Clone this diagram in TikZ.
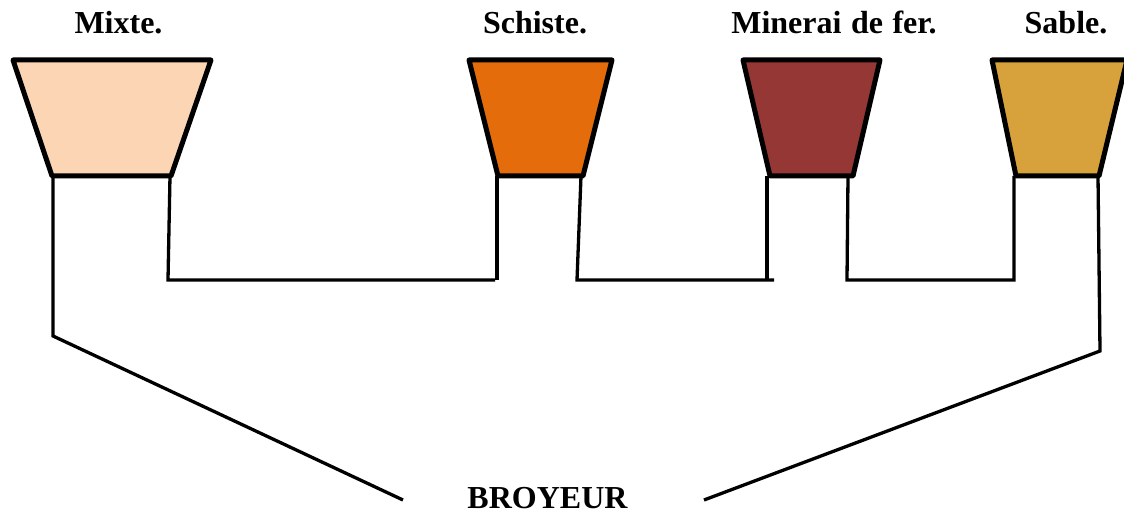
\documentclass[tikz,border=0pt]{standalone}
\usepackage{fontspec}
\setmainfont{Liberation Serif}
\definecolor{mixc}{HTML}{FCD5B5}
\definecolor{schc}{HTML}{E46C0A}
\definecolor{minc}{HTML}{953735}
\definecolor{sabc}{HTML}{D7A13B}
\tikzset{hopper/.style={draw=black,line width=5pt,line join=round},
wire/.style={draw=black,line width=3.3pt},
lab/.style={font=\bfseries\fontsize{32}{34}\selectfont,text=black,inner sep=0pt,anchor=base}}
\begin{document}
\begin{tikzpicture}[x=1pt,y=-1pt]
\useasboundingbox (0,0) rectangle (1124,513);
\begin{scope}
\clip (0,0) rectangle (1124,513);
\coordinate (m1) at (53,176);\coordinate (m2) at (53,336);\coordinate (m3) at (403,500);
\coordinate (n1) at (170,176);\coordinate (n2) at (168,280);\coordinate (n3) at (495,280);
\coordinate (s1) at (497,176);\coordinate (s1b) at (497,280);\coordinate (s2) at (581,176);\coordinate (s3) at (577,280);\coordinate (s4) at (774,280);
\coordinate (f1) at (767,176);\coordinate (f2) at (767,280);\coordinate (f3) at (848,176);\coordinate (f4) at (847,280);\coordinate (f5) at (1014,280);\coordinate (f6) at (1014,176);
\coordinate (r1) at (1098,176);\coordinate (r2) at (1100,351);\coordinate (r3) at (704,500);
\draw[wire] (m1)--(m2)--(m3);
\draw[wire] (n1)--(n2)--(n3);
\draw[wire] (s1)--(s1b);
\draw[wire] (s2)--(s3)--(s4);
\draw[wire] (f1)--(f2);
\draw[wire] (f3)--(f4)--(f5)--(f6);
\draw[wire] (r1)--(r2)--(r3);
\draw[hopper,fill=mixc] (13,60) -- (211,60) -- (171,176) -- (52,176) -- cycle;
\draw[hopper,fill=schc] (469,60) -- (612,60) -- (583,176) -- (498,176) -- cycle;
\draw[hopper,fill=minc] (743,60) -- (880,60) -- (853,176) -- (770,176) -- cycle;
\draw[hopper,fill=sabc] (992,60) -- (1127,60) -- (1099,176) -- (1016,176) -- cycle;
\end{scope}
\node[lab] (t1) at (118.5,33.5) {Mixte.};
\node[lab] (t2) at (535,33.5) {Schiste.};
\node[lab] (t3) at (834,33.5) {Minerai\hspace{1.5pt} de\hspace{1.5pt} fer.};
\node[lab] (t4) at (1066,33.5) {Sable.};
\node[lab] (t5) at (547.5,508) {BROYEUR};
\end{tikzpicture}
\end{document}
